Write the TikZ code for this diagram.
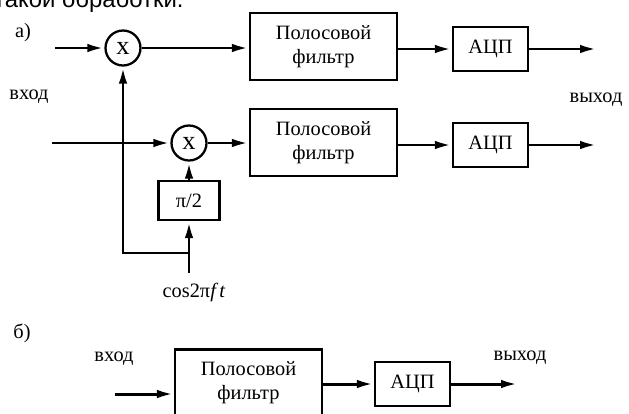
\documentclass[tikz,border=0pt]{standalone}
\usepackage{fontspec}
\setmainfont{Liberation Serif}
\newfontfamily\headfont{Liberation Sans}
\usetikzlibrary{arrows.meta}

\begin{document}
\begin{tikzpicture}[x=0.02cm, y=-0.02cm, line width=1.7pt,
                    >={Latex[length=3.4mm,width=1.7mm]},
                    font=\fontsize{11.6}{13.6}\selectfont,
                    block/.style={rectangle, draw, line width=1.3pt, align=center, inner sep=0pt},
                    filter/.style={block, minimum width=2.94cm, minimum height=1.34cm},
                    adc/.style={block, minimum width=1.5cm, minimum height=0.88cm},
                    mixer/.style={circle, draw, line width=1.3pt, minimum size=0.7cm, inner sep=0pt,
                                  font=\fontsize{15}{17}\selectfont}]
  \useasboundingbox (0,0) rectangle (629,413);

    \node[anchor=base east, inner sep=0pt, font=\headfont\fontsize{13.6}{16}\selectfont]
         (head) at (185,7) {такой обработки.};

    % a)
    \node (la)    at (23,33)   {а)};
    \node (inla)  at (29,97)   {вход};
    \node (outla) at (596,100) {выход};

    \node[mixer]  (mul1)  at (123,48)    {x};
    \node[filter] (filt1) at (323.5,46.5) {Полосовой\\фильтр};
    \node[adc]    (adc1)  at (490.5,49)  {АЦП};

    \node[mixer]  (mul2)  at (189,143)   {x};
    \node[filter] (filt2) at (323.5,142.5) {Полосовой\\фильтр};
    \node[adc]    (adc2)  at (490.5,145) {АЦП};
    \node[block, minimum width=1.22cm, minimum height=0.78cm] (pi) at (189,200.5) {π/2};
    \node (cos) at (194,292) {cos2π\textit{f\,t}};

    \coordinate (in1)  at (55,48);
    \coordinate (in2)  at (52,143);
    \coordinate (out1) at (597,49);
    \coordinate (out2) at (597,145);
    \coordinate (cs)   at (189,273);
    \coordinate (tap)  at (189,253);

    \draw[->] (in1) -- (mul1);
    \draw[->] (mul1) -- (mul1 -| filt1.west);
    \draw[->] (filt1.east |- adc1) -- (adc1);
    \draw[->] (adc1) -- (out1);

    \draw[->] (in2) -- (mul2);
    \draw[->] (mul2) -- (mul2 -| filt2.west);
    \draw[->] (filt2.east |- adc2) -- (adc2);
    \draw[->] (adc2) -- (out2);

    \draw[->] (cs) -- (pi);
    \draw[->] (pi) -- (mul2);
    \draw[->] (tap) -| (mul1);

    % b)
    \node (lb)    at (22,333)  {б)};
    \node (inlb)  at (114,359) {вход};
    \node (outlb) at (520,358) {выход};

    \node[filter] (filt3) at (248.5,383) {Полосовой\\фильтр};
    \node[adc]    (adc3)  at (412.5,384) {АЦП};

    \coordinate (in3)  at (115,394);
    \coordinate (out3) at (518,384);

    \draw[->] (in3) -- (in3 -| filt3.west);
    \draw[->] (filt3.east |- adc3) -- (adc3);
    \draw[->] (adc3) -- (out3);
  \end{tikzpicture}
\end{document}
